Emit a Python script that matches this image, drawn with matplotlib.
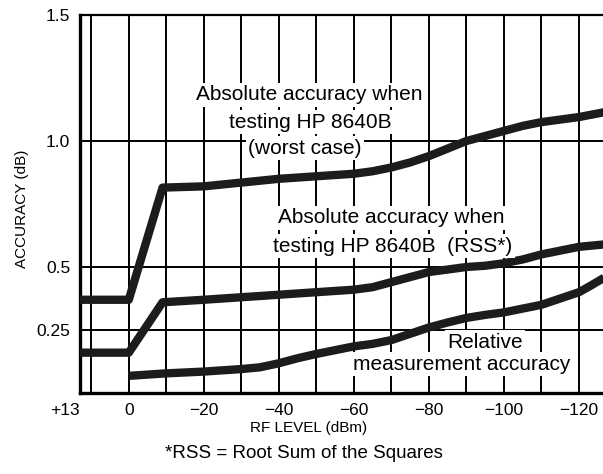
import matplotlib
matplotlib.use('Agg')
import matplotlib.pyplot as plt

plt.rcParams['font.family'] = ['Liberation Sans', 'DejaVu Sans']

# RF level (dBm) and accuracy (dB) for each curve
worst_x = [13, 0, -9, -20, -30, -40, -50, -60, -65, -70, -75, -80, -85,
           -90, -95, -100, -105, -110, -115, -120, -127]
worst_y = [0.37, 0.37, 0.815, 0.82, 0.835, 0.85, 0.86, 0.87, 0.88, 0.895,
           0.915, 0.94, 0.97, 1.0, 1.02, 1.04, 1.06, 1.075, 1.085, 1.095, 1.115]

rss_x = [13, 0, -9, -20, -30, -40, -50, -60, -65, -70, -75, -80, -85,
         -90, -95, -100, -105, -110, -115, -120, -127]
rss_y = [0.16, 0.16, 0.36, 0.37, 0.38, 0.39, 0.40, 0.41, 0.42, 0.44,
         0.46, 0.48, 0.49, 0.50, 0.505, 0.515, 0.53, 0.55, 0.565, 0.58, 0.59]

rel_x = [0, -10, -20, -30, -35, -40, -45, -50, -60, -65, -70, -75, -80, -85,
         -90, -95, -100, -105, -110, -115, -120, -123, -127]
rel_y = [0.068, 0.078, 0.085, 0.095, 0.102, 0.118, 0.138, 0.155, 0.185,
         0.195, 0.21, 0.235, 0.26, 0.28, 0.298, 0.31, 0.32, 0.335, 0.35,
         0.375, 0.40, 0.425, 0.46]

xgrid = [10, 0, -10, -20, -30, -40, -50, -60, -70, -80, -90, -100, -110, -120]
ygrid = [0.25, 0.5, 1.0]
xticks = [13, 0, -20, -40, -60, -80, -100, -120]
xticklabels = ['+13', '0', '\u221220', '\u221240', '\u221260', '\u221280',
               '\u2212100', '\u2212120']
yticks = [0.25, 0.5, 1.0, 1.5]
yticklabels = ['0.25', '0.5', '1.0', '1.5']

fig = plt.figure(figsize=(6.03, 4.74), dpi=100)
ax = fig.add_axes([80 / 603, 81 / 474, 523 / 603, 378 / 474])

for gx in xgrid:
    ax.axvline(gx, color='black', lw=1.4, zorder=1)
for gy in ygrid:
    ax.axhline(gy, color='black', lw=1.4, zorder=1)

line_kw = dict(color='#1c1c1c', lw=6.0, solid_capstyle='butt',
               solid_joinstyle='round', zorder=4)
ax.plot(worst_x, worst_y, **line_kw)
ax.plot(rss_x, rss_y, **line_kw)
ax.plot(rel_x, rel_y, **line_kw)

ax.set_xlim(13, -126.4)
ax.set_ylim(0, 1.5)

ax.set_xticks(xticks)
ax.set_xticklabels(xticklabels, fontsize=12.5)
ax.set_yticks(yticks)
ax.set_yticklabels(yticklabels, fontsize=12.5)
ax.tick_params(length=0, pad=7)
ax.get_xticklabels()[0].set_horizontalalignment('right')

ax.spines['right'].set_visible(False)
ax.spines['left'].set_linewidth(2.4)
ax.spines['bottom'].set_linewidth(2.4)
ax.spines['top'].set_linewidth(1.6)

box = dict(boxstyle='square,pad=0.12', facecolor='white', edgecolor='none')


def label(x, y, s):
    # place text by pixel position inside the axes
    fig.text(x / 603, 1 - y / 474, s, fontsize=15, ha='center', va='center',
             bbox=box, zorder=3)


label(309, 95, 'Absolute accuracy when')
label(310, 122, 'testing HP 8640B')
label(305, 148, '(worst case)')
label(391, 218, 'Absolute accuracy when')
label(393, 246, 'testing HP 8640B  (RSS*)')
label(485, 342, 'Relative')
label(462, 364, 'measurement accuracy')

fig.text(22 / 603, 1 - 209 / 474, 'ACCURACY (dB)', fontsize=11, rotation=90,
         ha='center', va='center')
fig.text(309 / 603, 1 - 428 / 474, 'RF LEVEL (dBm)', fontsize=11,
         ha='center', va='center')
fig.text(304 / 603, 1 - 453 / 474, '*RSS = Root Sum of the Squares',
         fontsize=13.5, ha='center', va='center')

fig.savefig('out.png', dpi=100)
